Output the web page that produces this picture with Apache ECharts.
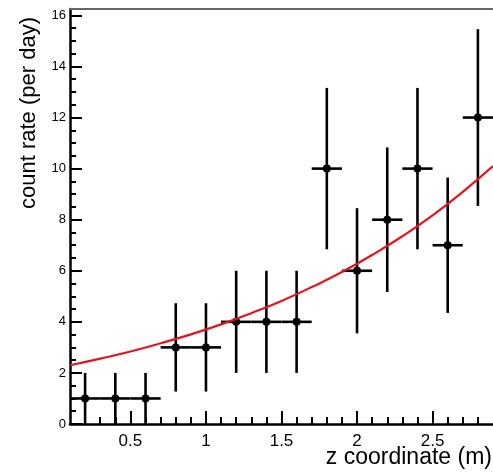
<!DOCTYPE html>
<html>
<head>
<meta charset="utf-8">
<script src="https://cdn.jsdelivr.net/npm/echarts@6/dist/echarts.min.js"></script>
<style>
  html, body { margin: 0; padding: 0; background: #fff; }
  #chart { width: 493px; height: 476px; }
</style>
</head>
<body>
<div id="chart"></div>
<script>
// measured count rate per bin (bin centres in m)
const zCentres = [0.2, 0.4, 0.6, 0.8, 1.0, 1.2, 1.4, 1.6, 1.8, 2.0, 2.2, 2.4, 2.6, 2.8];
const counts = [1, 1, 1, 3, 3, 4, 4, 4, 10, 6, 8, 10, 7, 12];
const countErrors = [1, 1, 1, 1.73, 1.73, 2, 2, 2, 3.16, 2.45, 2.83, 3.16, 2.65, 3.46];
const binHalfWidth = 0.1;

// red fit curve
const fitZ = [0.1, 0.3, 0.5, 0.7, 0.9, 1.1, 1.3, 1.5, 1.7, 1.9, 2.1, 2.3, 2.5, 2.7, 2.9];
const fitRate = [2.30, 2.56, 2.84, 3.16, 3.51, 3.90, 4.34, 4.82, 5.36, 5.95, 6.62, 7.35, 8.17, 9.09, 10.10];

const xMajorTicks = [0.5, 1, 1.5, 2, 2.5];
const yMajorTicks = [0, 2, 4, 6, 8, 10, 12, 14, 16];

let xMinorTicks = [];
for (let i = 2; i <= 28; i++) xMinorTicks.push(+(i / 10).toFixed(1));
let yMinorTicks = [];
for (let i = 1; i <= 32; i++) yMinorTicks.push(i / 2);

const myChart = echarts.init(document.getElementById('chart'));

const font = 'Liberation Sans';
const xRange = {min: 0.1, max: 2.9};
const yRange = {min: 0, max: 16.25};

const option = {
  animation: false,
  grid: {left: 70, top: 9, right: -3, bottom: 52},
  xAxis: [
    {
      type: 'value', position: 'bottom', ...xRange,
      axisLine: {show: true, onZero: false, lineStyle: {color: '#000', width: 2.5}},
      axisTick: {show: true, inside: true, length: 13, customValues: xMajorTicks, lineStyle: {color: '#000', width: 2}},
      axisLabel: {
        customValues: xMajorTicks, margin: 9, color: '#000', fontSize: 17, fontFamily: font,
        formatter: v => String(v)
      },
      splitLine: {show: false}
    },
    {
      type: 'value', position: 'bottom', ...xRange,
      axisLine: {show: false},
      axisTick: {show: true, inside: true, length: 7, customValues: xMinorTicks, lineStyle: {color: '#000', width: 2}},
      axisLabel: {show: false},
      splitLine: {show: false}
    },
    {
      // top frame only
      type: 'value', position: 'top', ...xRange,
      axisLine: {show: true, onZero: false, lineStyle: {color: '#666', width: 2}},
      axisTick: {show: false},
      axisLabel: {show: false},
      splitLine: {show: false}
    }
  ],
  yAxis: [
    {
      type: 'value', position: 'left', ...yRange,
      axisLine: {show: true, onZero: false, lineStyle: {color: '#000', width: 2.5}},
      axisTick: {show: true, inside: true, length: 12, customValues: yMajorTicks, lineStyle: {color: '#000', width: 2}},
      axisLabel: {
        customValues: yMajorTicks, margin: 4, color: '#000', fontSize: 13, fontFamily: font,
        formatter: v => String(v)
      },
      splitLine: {show: false}
    },
    {
      type: 'value', position: 'left', ...yRange,
      axisLine: {show: false},
      axisTick: {show: true, inside: true, length: 6, customValues: yMinorTicks, lineStyle: {color: '#000', width: 2}},
      axisLabel: {show: false},
      splitLine: {show: false}
    }
  ],
  graphic: [
    {
      type: 'text', x: 29, y: 113, rotation: Math.PI / 2,
      style: {text: 'count rate (per day)', fill: '#000', font: '22px ' + font, textAlign: 'center', textVerticalAlign: 'middle'}
    },
    {
      type: 'text', x: 492, y: 458,
      style: {text: 'z coordinate (m)', fill: '#000', font: '23px ' + font, textAlign: 'right', textVerticalAlign: 'middle'}
    }
  ],
  series: [
    {
      name: 'data',
      type: 'custom',
      xAxisIndex: 0, yAxisIndex: 0,
      z: 2,
      data: zCentres.map((z, i) => [z, counts[i], countErrors[i]]),
      renderItem: (params, api) => {
        const x = api.value(0), y = api.value(1), e = api.value(2);
        const c = api.coord([x, y]);
        const l = api.coord([x - binHalfWidth, y]);
        const r = api.coord([x + binHalfWidth, y]);
        const lo = api.coord([x, y - e]);
        const hi = api.coord([x, y + e]);
        const st = {stroke: '#000', lineWidth: 2.6};
        return {
          type: 'group',
          children: [
            {type: 'line', shape: {x1: l[0], y1: l[1], x2: r[0], y2: r[1]}, style: st},
            {type: 'line', shape: {x1: lo[0], y1: lo[1], x2: hi[0], y2: hi[1]}, style: st},
            {type: 'circle', shape: {cx: c[0], cy: c[1], r: 4}, style: {fill: '#000'}}
          ]
        };
      }
    },
    {
      name: 'fit',
      type: 'line',
      xAxisIndex: 0, yAxisIndex: 0,
      z: 3,
      smooth: true,
      symbol: 'none',
      lineStyle: {color: '#e3141e', width: 2.2},
      data: fitZ.map((z, i) => [z, fitRate[i]])
    }
  ]
};

myChart.setOption(option);
</script>
</body>
</html>
